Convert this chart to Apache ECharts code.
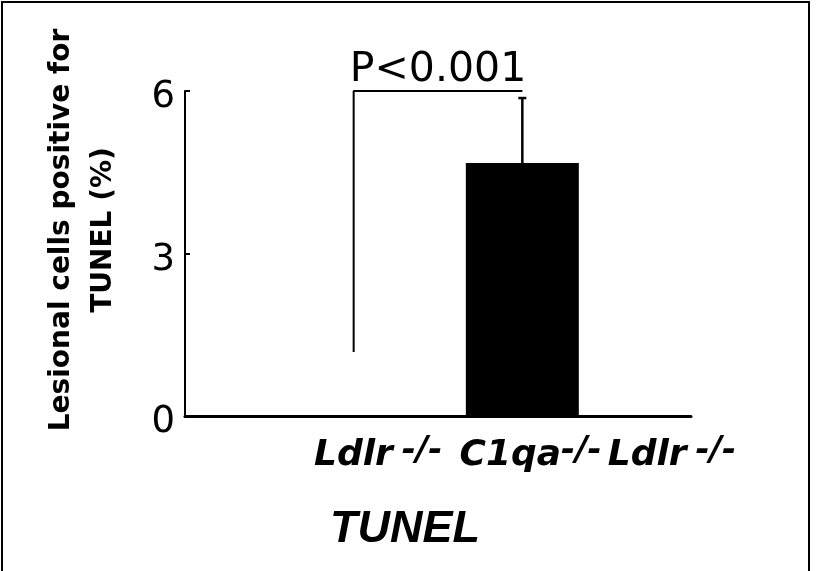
<!DOCTYPE html>
<html>
<head>
<meta charset="utf-8">
<script src="https://cdn.jsdelivr.net/npm/echarts@6/dist/echarts.min.js"></script>
<style>
  html, body { margin: 0; padding: 0; background: #fff; }
  #chart { width: 816px; height: 571px; }
</style>
</head>
<body>
<div id="chart"></div>
<script>
// Group positions on the x scale and their labels (main text + superscript parts)
const groupX = [1, 2];
const groupLabels = [
  [['Ldlr', 'main'], ['-/-', 'sup']],
  [['C1qa', 'main'], ['-/-', 'sup0'], ['Ldlr', 'main'], ['-/-', 'sup']]
];
// Mean % of lesional cells positive for TUNEL, and SEM
const means = [1.18, 4.67];
const errors = [0, 1.2];
const barColors = ['#ffffff', '#000000'];
// y-axis ticks
const yMin = 0, yMax = 6, yStep = 3;
// significance bracket
const bracketTop = 6;
const pText = 'P<0.001';
const yTitle = ['Lesional cells positive for', 'TUNEL (%)'];
const xTitle = 'TUNEL';

const numFont = '"DejaVu Sans", sans-serif';
const boldFont = '"DejaVu Sans", sans-serif';
const titleFont = '"Liberation Sans", "DejaVu Sans", sans-serif';

const chart = echarts.init(document.getElementById('chart'), null, { renderer: 'canvas' });

// left padding shifts each category label to the right of its bar
const labelPad = [49, 151];
const mainStyle = { fontFamily: boldFont, fontWeight: 'bold', fontStyle: 'italic', fontSize: 36, color: '#000', verticalAlign: 'bottom', lineHeight: 40 };
const supStyle = { fontFamily: boldFont, fontWeight: 'bold', fontStyle: 'italic', fontSize: 34, color: '#000', verticalAlign: 'top', lineHeight: 30, padding: [0, 0, 0, 9] };
const rich = {
  main: mainStyle,
  sup: supStyle,
  sup0: Object.assign({}, supStyle, { padding: [0, 6, 0, 0] })
};
labelPad.forEach((p, i) => {
  rich['first' + i] = Object.assign({}, mainStyle, { padding: [0, 0, 0, p] });
});

function xLabel(value) {
  const idx = groupX.indexOf(value);
  if (idx < 0) return '';
  return groupLabels[idx].map((p, k) => {
    const style = k === 0 ? 'first' + idx : p[1];
    return '{' + style + '|' + p[0] + '}';
  }).join('');
}

// tick numbers sit a little below their tick marks
function yLabel(value) {
  return '{gap| }\n{num|' + value + '}';
}

const option = {
  animation: false,
  backgroundColor: '#fff',
  grid: { left: 185, right: 125, top: 91, bottom: 155, containLabel: false },
  xAxis: {
    type: 'value', min: 0, max: 3, interval: 1, z: 10,
    axisLine: { show: true, onZero: false, lineStyle: { color: '#000', width: 3 } },
    axisTick: { show: false },
    splitLine: { show: false },
    axisLabel: { show: true, formatter: xLabel, rich: rich, margin: 18, showMinLabel: true, showMaxLabel: true },
    name: xTitle, nameLocation: 'middle', nameGap: 91,
    nameTextStyle: { fontFamily: titleFont, fontWeight: 'bold', fontStyle: 'italic', fontSize: 45, color: '#000', padding: [0, 66, 0, 0] }
  },
  yAxis: {
    type: 'value', min: yMin, max: yMax, interval: yStep,
    axisLine: { show: true, lineStyle: { color: '#000', width: 2 } },
    axisTick: { show: true, inside: true, length: 5, lineStyle: { color: '#000', width: 2 } },
    splitLine: { show: false },
    axisLabel: {
      margin: 10, formatter: yLabel,
      rich: {
        gap: { fontSize: 1, lineHeight: 13 },
        num: { fontFamily: numFont, fontSize: 37, lineHeight: 40, color: '#000' }
      }
    }
  },
  graphic: [
    { type: 'rect', shape: { x: 2, y: 2, width: 807, height: 600 }, style: { fill: 'none', stroke: '#000', lineWidth: 2 }, silent: true },
    { type: 'text', x: 83, y: 230, rotation: Math.PI / 2,
      style: { text: yTitle.join('\n'), fontFamily: boldFont, fontWeight: 'bold', fontSize: 28, lineHeight: 42,
               align: 'center', verticalAlign: 'middle', fill: '#000' } }
  ],
  series: [
    {
      type: 'bar',
      barWidth: 113,
      data: groupX.map((x, i) => ({ value: [x, means[i]], itemStyle: { color: barColors[i] } })),
      z: 2
    },
    {
      type: 'custom',
      data: groupX.map((x, i) => [x, means[i], errors[i]]),
      renderItem: function (params, api) {
        const x = api.value(0), m = api.value(1), e = api.value(2);
        if (!(e > 0)) return null;
        const base = api.coord([x, m]);
        const top = api.coord([x, m + e]);
        const st = { stroke: '#000', lineWidth: 2.5 };
        return {
          type: 'group',
          children: [
            { type: 'line', shape: { x1: base[0], y1: base[1], x2: top[0], y2: top[1] }, style: st },
            { type: 'line', shape: { x1: top[0] - 4, y1: top[1], x2: top[0] + 4, y2: top[1] }, style: st }
          ]
        };
      },
      z: 3
    },
    {
      // significance bracket from the first group up and across to the second
      type: 'line',
      data: [[groupX[0], means[0]], [groupX[0], bracketTop], [groupX[1], bracketTop]],
      symbol: 'none',
      lineStyle: { color: '#000', width: 2 },
      z: 4
    },
    {
      type: 'scatter',
      data: [[(groupX[0] + groupX[1]) / 2, bracketTop]],
      symbolSize: 0,
      itemStyle: { opacity: 1 },
      label: { show: true, position: 'top', distance: 0, formatter: pText, opacity: 1,
               fontFamily: numFont, fontSize: 41, color: '#000' },
      z: 5
    }
  ]
};
chart.setOption(option);
</script>
</body>
</html>
